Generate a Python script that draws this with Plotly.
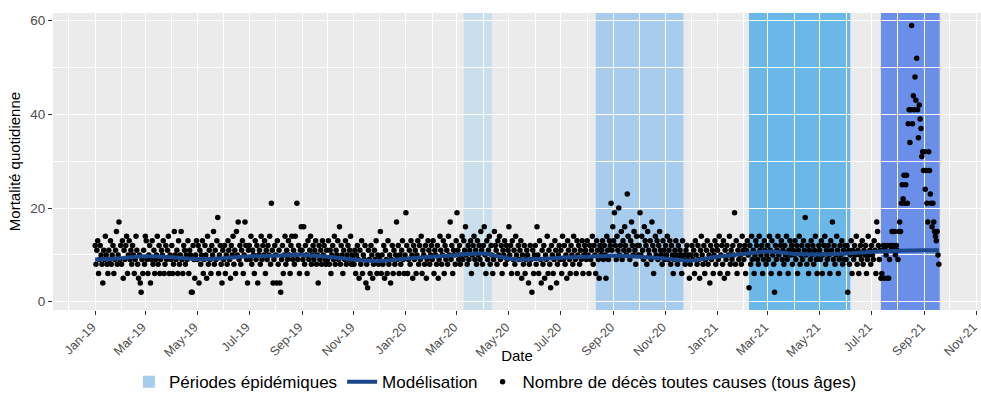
import pandas as pd
import plotly.graph_objects as go

# ---------------- data ----------------
deaths_2019 = [
    "12 8 11 13 6 9 12 10 8 4 11 9 14 10 8 6 11 9 13 8 10 12 6 9 11 15 8 10 17 9 12",
    "8 13 5 11 9 12 14 6 10 13 9 11 8 12 10 6 9 14 11 8 5 10 4 2 9 6 11 8",
    "14 13 9 6 10 12 4 9 13 8 11 6 9 10 14 8 12 6 9 11 10 13 6 8 12 9 11 14 6 10 9",
    "12 6 8 15 10 9 11 6 13 8 10 15 9 6 12 11 8 10 9 13 6 11 10 2 2 12 9 5 10 13",
    "9 12 4 11 8 10 13 6 9 12 10 5 14 8 11 9 6 12 10 15 8 11 9 13 18 6 10 12 8 4 11",
    "9 12 6 10 8 13 11 9 5 12 10 14 8 11 6 15 10 17 9 12 8 11 13 6 10 17 12 9 4 11",
    "12 9 14 8 11 10 6 13 9 12 4 10 11 8 14 9 12 10 13 6 11 9 12 10 14 8 21 11 4 9 12",
    "10 4 13 8 11 4 2 9 12 6 10 14 8 11 9 13 10 6 12 14 9 11 8 14 10 21 9 12 6 11 16",
    "11 9 16 8 12 10 6 13 9 11 14 8 10 12 9 11 13 8 10 4 12 9 11 8 13 10 12 9 8 11",
    "9 13 8 11 6 10 12 9 14 8 11 10 13 9 16 8 12 10 6 11 9 13 8 10 12 9 11 14 8 10 9",
    "8 11 6 10 12 9 5 11 8 13 6 10 9 12 4 8 3 11 9 6 12 10 5 8 11 9 13 6 10 8",
    "9 15 6 10 8 12 5 11 9 6 13 8 10 4 9 12 6 11 8 10 17 9 12 6 10 8 11 13 9 6 10",
]
deaths_2020 = [
    "19 12 6 9 11 8 13 10 5 12 9 11 6 10 13 8 12 9 14 6 11 10 8 12 5 9 13 11 8 10 12",
    "9 13 6 11 10 8 12 5 9 14 11 8 10 13 6 12 9 11 8 14 10 17 9 12 6 11 10 8 13",
    "19 11 9 12 8 10 14 9 13 11 16 10 8 12 9 11 13 6 10 12 14 9 11 8 13 10 12 9 15 11 8",
    "12 16 10 6 13 9 11 14 8 12 10 6 9 15 12 11 8 13 10 14 9 12 6 11 10 13 8 12 9 11",
    "16 10 12 6 13 9 11 8 14 10 6 12 9 11 13 5 10 8 12 6 9 11 10 4 8 12 9 2 11 6 10",
    "12 8 16 10 6 13 9 4 11 8 12 5 10 9 14 6 11 8 3 12 10 6 9 13 11 4 8 10 12 9",
    "11 6 14 9 12 8 10 5 13 11 9 6 12 10 8 14 11 9 6 13 10 12 8 11 9 13 6 10 12 11 9",
    "13 10 6 12 9 11 14 8 12 10 6 13 11 9 5 12 10 11 13 9 12 10 5 14 11 9 13 12 21 11 16",
    "13 19 12 9 14 11 20 10 12 15 9 13 11 16 12 10 23 14 11 9 13 17 12 10 15 11 8 14 12 10",
    "12 19 10 14 11 9 16 13 12 8 15 11 10 13 9 17 12 6 11 14 10 13 9 12 15 11 10 8 13 11 9",
    "12 10 14 9 11 13 8 12 10 6 9 11 13 10 8 12 9 11 10 6 13 9 10 8 11 12 9 10 5 8",
    "10 12 9 11 6 13 10 8 12 9 5 11 14 10 8 12 6 9 11 13 8 10 4 12 9 11 6 10 13 8 12",
]
deaths_2021 = [
    "11 9 14 6 10 12 8 13 5 11 9 12 6 10 14 8 11 9 12 10 19 8 13 6 11 9 12 10 8 14 11",
    "9 12 6 11 13 10 3 12 8 14 9 11 6 10 13 12 9 8 14 11 10 12 6 9 13 11 8 10",
    "12 9 14 11 6 13 10 8 2 12 9 11 14 10 6 12 13 9 11 8 12 10 14 9 6 11 13 10 12 8 11",
    "10 13 9 12 6 11 14 8 10 12 9 13 11 18 10 8 12 6 11 9 13 10 12 8 11 14 9 6 10 12",
    "11 9 13 6 10 12 14 8 11 9 12 10 6 13 11 17 9 12 8 10 14 11 6 9 12 10 13 8 11 9 12",
    "9 12 2 11 8 10 13 6 11 9 12 10 14 8 11 6 10 12 9 13 8 11 10 12 6 9 14 10 11 8",
    "12 10 9 13 11 6 17 15 12 9 11 5 6 11 12 5 11 10 12 5 5 9 12 11 15 12 11 15 10 12 11",
    "9 15 17 15 21 25 22 27 21 25 27 21 38 41 34 41 59 38 44 41 48 43 52 41 35 42 39 37 31 32 28",
    "32 24 28 21 17 32 28 23 21 16 21 17 15 14 13 15 10 8",
]

model_dates = [
    "2019-01-01", "2019-02-01", "2019-03-01", "2019-04-01", "2019-05-01", "2019-06-01",
    "2019-07-01", "2019-08-01", "2019-09-01", "2019-10-01", "2019-11-01", "2019-12-01",
    "2020-01-01", "2020-02-01", "2020-03-01", "2020-04-01", "2020-04-20", "2020-05-10",
    "2020-06-01", "2020-07-01", "2020-08-01", "2020-09-01", "2020-10-01", "2020-11-01",
    "2020-12-01", "2021-01-01", "2021-02-01", "2021-03-01", "2021-04-01", "2021-05-01",
    "2021-06-01", "2021-07-01", "2021-08-01", "2021-09-01", "2021-09-18",
]
model_values = [
    9.0, 9.3, 9.7, 9.5, 9.1, 9.3,
    9.7, 9.8, 10.0, 9.6, 9.0, 8.7,
    9.2, 9.6, 10.0, 10.3, 9.6, 9.0,
    9.1, 9.4, 9.6, 9.8, 9.6, 9.2,
    8.8, 9.6, 10.2, 10.7, 10.2, 10.1,
    10.3, 10.6, 10.9, 11.0, 11.0,
]

period_starts = ["2020-03-09", "2020-08-11", "2021-02-07", "2021-07-12"]
period_ends = ["2020-04-11", "2020-11-22", "2021-06-06", "2021-09-19"]

y_ticks = [0, 20, 40, 60]

# ---------------- styles ----------------
period_colors = ["#c9dfeb", "#a7ccee", "#6ab7e8", "#6a8fe9"]
FONT = "Liberation Sans, Arial, Helvetica, sans-serif"


def build(year, months):
    dates, vals = [], []
    for m, s in enumerate(months, start=1):
        v = [int(t) for t in s.split()]
        dates += list(pd.date_range(f"{year}-{m:02d}-01", periods=len(v), freq="D"))
        vals += v
    return dates, vals


obs_dates, obs_vals = [], []
for yr, months in ((2019, deaths_2019), (2020, deaths_2020), (2021, deaths_2021)):
    d, v = build(yr, months)
    obs_dates += d
    obs_vals += v

fig = go.Figure()

for i, (s, e) in enumerate(zip(period_starts, period_ends)):
    fig.add_shape(
        type="rect", xref="x", yref="paper", x0=s, x1=e, y0=0, y1=1,
        fillcolor=period_colors[i], line_width=0, layer="between",
        showlegend=(i == 1), name="Périodes épidémiques", legendrank=1,
        legendgroup="periodes",
    )

fig.add_trace(go.Scatter(
    x=obs_dates, y=obs_vals, mode="markers",
    marker=dict(color="black", size=5.5, line_width=0),
    name="Nombre de décès toutes causes (tous âges)", legendrank=3,
))

fig.add_trace(go.Scatter(
    x=pd.to_datetime(model_dates), y=model_values, mode="lines",
    line=dict(color="#1a4789", width=4, shape="spline", smoothing=1.0),
    name="Modélisation", legendrank=2, hoverinfo="skip",
))

fig.update_layout(
    width=981, height=394,
    margin=dict(l=53, r=0, t=13, b=84, autoexpand=False),
    paper_bgcolor="white", plot_bgcolor="#ebebeb",
    font=dict(family=FONT, color="black"),
    showlegend=True,
    legend=dict(
        orientation="h", xref="container", yref="container",
        x=0.505, xanchor="center", y=0.03, yanchor="middle",
        font=dict(size=17, color="black", family=FONT),
        bgcolor="rgba(0,0,0,0)", itemwidth=30,
    ),
)

fig.update_xaxes(
    type="date",
    range=["2018-11-12 12:00", "2021-11-06 12:00"],
    tick0="2019-01-01", dtick="M2", tickformat="%b-%y", tickangle=-45,
    ticks="outside", ticklen=4, tickwidth=1, tickcolor="#333333",
    tickfont=dict(size=12.5, color="#4d4d4d", family=FONT),
    ticklabeloverflow="allow", ticklabelshift=-3,
    showgrid=True, gridcolor="white", gridwidth=1.3,
    minor=dict(dtick="M1", tick0="2019-01-01", showgrid=True, gridcolor="white",
               gridwidth=0.6, ticks=""),
    zeroline=False, showline=False, automargin=False,
    title=dict(text="Date", font=dict(size=15, color="black", family=FONT), standoff=9),
)
fig.update_yaxes(
    range=[-1.77, 61.65],
    tickvals=y_ticks, ticktext=[str(t) for t in y_ticks],
    ticks="outside", ticklen=4, tickwidth=1, tickcolor="#333333",
    tickfont=dict(size=13.5, color="#4d4d4d", family=FONT),
    showgrid=True, gridcolor="white", gridwidth=1.3,
    minor=dict(tickvals=[10, 30, 50], showgrid=True, gridcolor="white",
               gridwidth=0.6, ticks=""),
    zeroline=False, showline=False, automargin=False,
    title=dict(text="Mortalité quotidienne", font=dict(size=15, color="black", family=FONT),
               standoff=6),
)

fig.write_html("out.html")
